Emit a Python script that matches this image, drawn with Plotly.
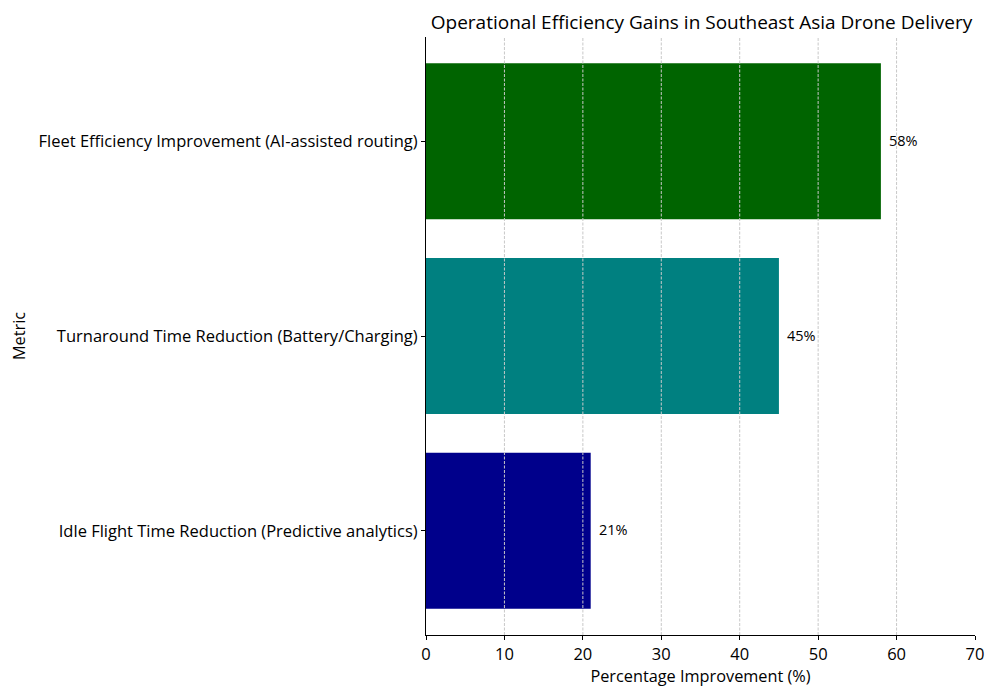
import plotly.graph_objects as go

metrics = [
    "Idle Flight Time Reduction (Predictive analytics)",
    "Turnaround Time Reduction (Battery/Charging)",
    "Fleet Efficiency Improvement (AI-assisted routing)",
]
values = [21, 45, 58]
colors = ["#00008B", "#008080", "#006400"]
x_ticks = [0, 10, 20, 30, 40, 50, 60, 70]

FONT = "Open Sans"

fig = go.Figure()
fig.add_trace(go.Bar(
    y=metrics, x=values, orientation="h",
    marker=dict(color=colors, line=dict(width=0)),
    width=0.8, showlegend=False, hoverinfo="x+y",
))

for m, v in zip(metrics, values):
    fig.add_annotation(x=v, y=m, text=f"{v}%", showarrow=False,
                       xanchor="left", xshift=6, yshift=1,
                       font=dict(family=FONT, size=14.5, color="black"))

for t in x_ticks[1:-1]:
    fig.add_shape(type="line", xref="x", yref="paper", x0=t, x1=t, y0=0, y1=1,
                  line=dict(color="#c8c8c8", width=1, dash="3px,1.5px"), layer="above")

fig.update_layout(
    width=1000, height=700,
    margin=dict(l=418, r=33, t=29, b=73),
    paper_bgcolor="white", plot_bgcolor="white",
    font=dict(family=FONT, size=16.5, color="black"),
    title=dict(text="Operational Efficiency Gains in Southeast Asia Drone Delivery",
               x=0.6935, xanchor="center", y=0.979, yanchor="middle",
               font=dict(family=FONT, size=19, color="black")),
    xaxis=dict(range=[0, 70], tickvals=x_ticks, showgrid=False, zeroline=False,
               showline=True, linecolor="black", linewidth=1,
               ticks="outside", ticklen=4, tickcolor="black",
               title=dict(text="Percentage Improvement (%)", standoff=5,
                          font=dict(family=FONT, size=16.3)),
               tickfont=dict(family=FONT, size=16.5)),
    yaxis=dict(range=[-0.535, 2.535], showgrid=False, zeroline=False,
               showline=True, linecolor="black", linewidth=1,
               ticks="outside", ticklen=4, tickcolor="black",
               title=dict(text="Metric", standoff=8, font=dict(family=FONT, size=16.3)),
               tickfont=dict(family=FONT, size=16.5)),
    bargap=0.2,
)

fig.write_html("out.html")
